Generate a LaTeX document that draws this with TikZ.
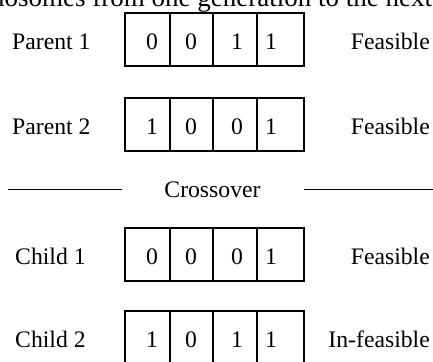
\documentclass[tikz,border=0pt]{standalone}
\usepackage{fontspec}
\setmainfont{Liberation Serif}
\begin{document}
\begin{tikzpicture}[x=1pt,y=-1pt,
  txt/.style={font=\fontsize{23.7}{28}\selectfont, inner sep=0pt, anchor=base},
  lbl/.style={txt, anchor=base west},
  status/.style={txt, anchor=base east},
  chrom/.style={line width=1.5pt},
  rule/.style={line width=1pt}]
\useasboundingbox (0,0) rectangle (433,361);
\clip (0,0) rectangle (433,361);

% running text above the figure
\node[txt, font=\fontsize{27}{32}\selectfont, anchor=base east] (run) at (439,7) {chromosomes from one generation to the next.};

% one chromosome row: #1 name, #2 top edge, #3 label, #4-#7 genes, #8 status, #9 label x
\newcommand{\chromrow}[9]{%
  \draw[chrom] (125,#2) rectangle (304,#2+53);
  \draw[chrom] (170,#2) -- (170,#2+53)
               (213,#2) -- (213,#2+53)
               (257,#2) -- (257,#2+53);
  \node[lbl] (#1-lbl) at (#9,#2+36) {#3};
  \node[txt] (#1-g1) at (152,#2+36) {#4};
  \node[txt] (#1-g2) at (191,#2+36) {#5};
  \node[txt] (#1-g3) at (237,#2+36) {#6};
  \node[txt] (#1-g4) at (271,#2+36) {#7};
  \node[status] (#1-st) at (430,#2+36) {#8};
}

\chromrow{p1}{13}{Parent 1}{0}{0}{1}{1}{Feasible}{12}
\chromrow{p2}{98}{Parent 2}{1}{0}{0}{1}{Feasible}{12}
\chromrow{c1}{228}{Child 1}{0}{0}{0}{1}{Feasible}{15}
\chromrow{c2}{311}{Child 2}{1}{0}{1}{1}{In-feasible}{15}

% crossover separator
\node[txt] (xo) at (212.5,197) {Crossover};
\coordinate (xl) at (8,189);
\coordinate (xr) at (433,189);
\draw[rule] (xl) -- (122,189);
\draw[rule] (304,189) -- (xr);
\end{tikzpicture}
\end{document}
